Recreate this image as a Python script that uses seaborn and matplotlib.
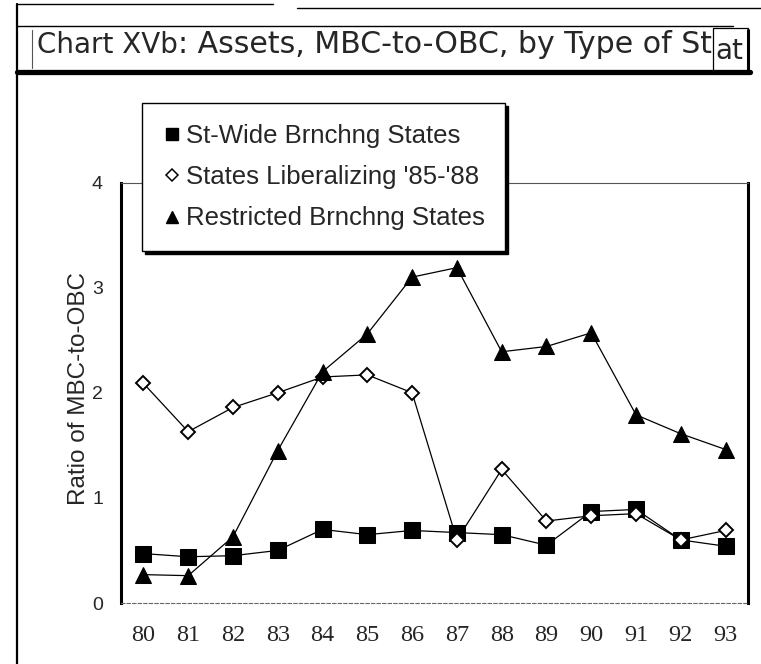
import matplotlib
matplotlib.use('Agg')
import matplotlib.pyplot as plt
from matplotlib.lines import Line2D
from matplotlib.patches import Rectangle
import seaborn as sns
import pandas as pd

# values
years = [80, 81, 82, 83, 84, 85, 86, 87, 88, 89, 90, 91, 92, 93]
st_wide = [0.47, 0.44, 0.45, 0.50, 0.70, 0.65, 0.69, 0.67, 0.65, 0.55, 0.87, 0.89, 0.60, 0.54]
liberalizing = [2.09, 1.63, 1.86, 2.00, 2.15, 2.17, 2.00, 0.60, 1.27, 0.78, 0.83, 0.85, 0.60, 0.69]
restricted = [0.27, 0.26, 0.63, 1.45, 2.20, 2.56, 3.10, 3.19, 2.39, 2.44, 2.57, 1.79, 1.61, 1.46]
series_names = ["St-Wide Brnchng States", "States Liberalizing '85-'88", "Restricted Brnchng States"]
year_labels = [str(y) for y in years]
y_ticks = [0, 1, 2, 3, 4]

df = pd.DataFrame({'year': years, 'st_wide': st_wide,
                   'liberalizing': liberalizing, 'restricted': restricted})

sns.set_style('white')
plt.rcParams['font.family'] = ['Liberation Sans', 'DejaVu Sans']

W, H = 761, 664
fig = plt.figure(figsize=(W / 100, H / 100), dpi=100)


def fx(x):
    return x / W


def fy(y):
    return 1 - y / H


ax = fig.add_axes([fx(121), 1 - 603 / H, (748 - 121) / W, (603 - 182.5) / H])

sns.lineplot(data=df, x='year', y='st_wide', ax=ax, color='black', lw=0.9,
             marker='s', markersize=11.5, markerfacecolor='black',
             markeredgecolor='black', zorder=2)
sns.lineplot(data=df, x='year', y='liberalizing', ax=ax, color='black', lw=0.9,
             marker='D', markersize=7, markerfacecolor='white',
             markeredgecolor='black', markeredgewidth=1.4, zorder=3)
sns.lineplot(data=df, x='year', y='restricted', ax=ax, color='black', lw=0.9,
             marker='^', markersize=11, markerfacecolor='black',
             markeredgecolor='black', zorder=4)

ax.set_xlim(79.5, 93.5)
ax.set_ylim(0, 4)
ax.set_xticks(years)
ax.set_xticklabels(year_labels, fontfamily='Liberation Serif')
ax.set_yticks(y_ticks)
ax.set_yticklabels([str(v) for v in y_ticks])
ax.tick_params(axis='x', direction='in', length=4.5, width=0.8, color='#777777',
               pad=16, labelsize=17.5)
ax.tick_params(axis='y', direction='in', length=5, width=0.8, color='#888888',
               pad=13, labelsize=14)
ax.set_xlabel('')
ax.set_ylabel('Ratio of MBC-to-OBC', fontsize=17.5)
ax.yaxis.set_label_coords(-0.05, 0.51)

ax.spines['left'].set_linewidth(2.2)
ax.spines['right'].set_linewidth(2.2)
ax.spines['left'].set_color('black')
ax.spines['right'].set_color('black')
ax.spines['top'].set_linewidth(0.8)
ax.spines['top'].set_color('#555555')
ax.spines['bottom'].set_linewidth(0.8)
ax.spines['bottom'].set_color('#666666')
ax.spines['bottom'].set_linestyle((0, (3, 2)))

handles = [
    Line2D([], [], marker='s', color='black', linestyle='none', markersize=9),
    Line2D([], [], marker='D', color='black', markerfacecolor='white',
           linestyle='none', markersize=6, markeredgewidth=1.1),
    Line2D([], [], marker='^', color='black', linestyle='none', markersize=9),
]
leg = ax.legend(handles, series_names, loc='upper left',
                bbox_to_anchor=(fx(142), fy(103)), bbox_transform=fig.transFigure,
                borderaxespad=0, fontsize=18.5, frameon=True, fancybox=False,
                edgecolor='black', framealpha=1, handlelength=0.7,
                handletextpad=0.2, borderpad=0.8, labelspacing=0.68,
                shadow={'color': 'black', 'alpha': 1})
leg.get_frame().set_linewidth(1.0)
leg.set_zorder(10)

# page frame and title box from the scan
def hline(y, x0, x1, lw=1.0, color='black'):
    fig.add_artist(Line2D([fx(x0), fx(x1)], [fy(y), fy(y)], lw=lw, color=color))


def vline(x, y0, y1, lw=1.0, color='black'):
    fig.add_artist(Line2D([fx(x), fx(x)], [fy(y0), fy(y1)], lw=lw, color=color))


vline(17, 4, 664, lw=1.6)
hline(4, 17, 273, lw=1.0)
hline(8, 297, 761, lw=1.0)
hline(26, 17, 733, lw=1.0)
vline(32, 30, 68, lw=0.8, color='#555555')
hline(72, 17, 750, lw=3.8)
fig.add_artist(Rectangle((fx(713), fy(72)), fx(748) - fx(713), fy(28) - fy(72),
                         transform=fig.transFigure, fill=False, lw=0.9,
                         edgecolor='black'))
vline(748, 30, 72, lw=2.2)

base = fy(53)
t1 = fig.text(fx(37), base, 'Chart XVb', fontsize=20, va='baseline', ha='left',
              fontfamily='DejaVu Sans')
fig.canvas.draw()
bb = t1.get_window_extent()
fig.text(bb.x1 / W, base, ': Assets, MBC-to-OBC, by Type of St', fontsize=21.6,
         va='baseline', ha='left', fontfamily='DejaVu Sans')
fig.text(fx(715), fy(59), 'at', fontsize=20, va='baseline', ha='left',
         fontfamily='DejaVu Sans')

fig.savefig('out.png', dpi=100)
